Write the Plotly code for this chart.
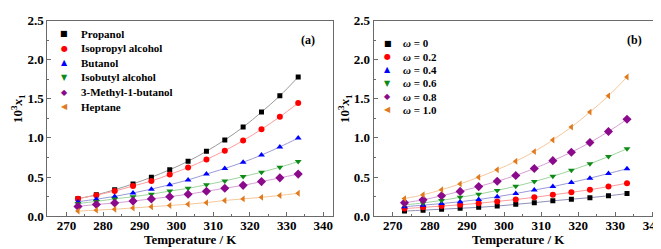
import plotly.graph_objects as go
from plotly.subplots import make_subplots

temperature = [273.15, 278.15, 283.15, 288.15, 293.15, 298.15, 303.15,
               308.15, 313.15, 318.15, 323.15, 328.15, 333.15]

# Panel (a): pure solvents
propanol = [0.224, 0.272, 0.337, 0.412, 0.497, 0.593, 0.701, 0.829, 0.974, 1.138, 1.330, 1.538, 1.779]
isopropyl = [0.222, 0.268, 0.320, 0.385, 0.449, 0.533, 0.621, 0.725, 0.837, 0.966, 1.110, 1.270, 1.446]
butanol = [0.184, 0.216, 0.252, 0.296, 0.345, 0.401, 0.462, 0.537, 0.609, 0.689, 0.781, 0.885, 0.998]
isobutyl = [0.160, 0.188, 0.220, 0.248, 0.280, 0.320, 0.355, 0.401, 0.449, 0.505, 0.561, 0.625, 0.697]
methylbutanol = [0.124, 0.148, 0.168, 0.192, 0.220, 0.248, 0.280, 0.317, 0.357, 0.393, 0.441, 0.489, 0.537]
heptane = [0.064, 0.076, 0.088, 0.104, 0.120, 0.136, 0.152, 0.172, 0.200, 0.220, 0.240, 0.264, 0.292]

# Panel (b): binary mixtures (mass fraction omega)
w00 = [0.064, 0.076, 0.088, 0.100, 0.112, 0.128, 0.150, 0.172, 0.196, 0.216, 0.236, 0.260, 0.288]
w02 = [0.096, 0.112, 0.128, 0.144, 0.164, 0.188, 0.212, 0.240, 0.272, 0.304, 0.337, 0.377, 0.421]
w04 = [0.120, 0.140, 0.160, 0.184, 0.212, 0.248, 0.288, 0.333, 0.377, 0.429, 0.485, 0.545, 0.605]
w06 = [0.144, 0.168, 0.200, 0.240, 0.280, 0.329, 0.381, 0.441, 0.509, 0.585, 0.669, 0.761, 0.861]
w08 = [0.172, 0.208, 0.260, 0.316, 0.377, 0.445, 0.520, 0.609, 0.709, 0.817, 0.941, 1.082, 1.238]
w10 = [0.224, 0.272, 0.337, 0.412, 0.497, 0.593, 0.701, 0.825, 0.974, 1.138, 1.330, 1.538, 1.779]

labels_a = ["Propanol", "Isopropyl alcohol", "Butanol", "Isobutyl alcohol",
            "3-Methyl-1-butanol", "Heptane"]
labels_b = ["<i>ω</i> = 0", "<i>ω</i> = 0.2", "<i>ω</i> = 0.4", "<i>ω</i> = 0.6",
            "<i>ω</i> = 0.8", "<i>ω</i> = 1.0"]
series_a = [propanol, isopropyl, butanol, isobutyl, methylbutanol, heptane]
series_b = [w00, w02, w04, w06, w08, w10]

x_ticks = [270, 280, 290, 300, 310, 320, 330, 340]
x_ticklabels = ["270", "280", "290", "300", "310", "320", "330", "340"]
y_ticks = [0.0, 0.5, 1.0, 1.5, 2.0, 2.5]
y_ticklabels = ["0.0", "0.5", "1.0", "1.5", "2.0", "2.5"]
x_title = "Temperature / K"
y_title = "10<sup>3</sup><i>x</i><sub>1</sub>"

colors = ["#000000", "#FF0000", "#0000FF", "#0E8A16", "#8B0A8B", "#E07A1C"]
line_colors = ["#9a9a9a", "#ff9a9a", "#9a9ad8", "#9fd49f", "#d49fd4", "#f5c79a"]
line_colors_b = ["#8e8eb8", "#ff9a9a", "#9a9ad8", "#9fd49f", "#d49fd4", "#f5c79a"]
symbols = ["square", "circle", "triangle-up", "triangle-down", "diamond", "triangle-left"]
sizes = [5, 6, 6, 6, 7, 6]
glyphs = ["■", "●", "▲", "▼", "◆", "◀"]

SERIF = "Liberation Serif"

fig = make_subplots(rows=1, cols=2, horizontal_spacing=0.06)

for col, (series, lcols) in enumerate([(series_a, line_colors), (series_b, line_colors_b)], start=1):
    for i, ys in enumerate(series):
        fig.add_trace(go.Scatter(x=temperature, y=ys, mode="lines",
                                 line=dict(color=lcols[i], width=1, shape="spline"),
                                 showlegend=False, hoverinfo="skip"), row=1, col=col)
    for i, ys in enumerate(series):
        fig.add_trace(go.Scatter(x=temperature, y=ys, mode="markers",
                                 marker=dict(symbol=symbols[i], size=sizes[i], color=colors[i],
                                             line=dict(width=0)),
                                 showlegend=False), row=1, col=col)

tick_font = dict(family=SERIF, size=13, color="black")
axis_common = dict(showline=True, mirror=True, linecolor="#6a6a6a", linewidth=1,
                   ticks="inside", ticklen=4, tickcolor="#6a6a6a",
                   showgrid=False, zeroline=False, tickfont=tick_font,
                   ticklabeloverflow="allow")

fig.update_xaxes(range=[264.8, 342.6], tickmode="array", tickvals=x_ticks,
                 ticktext=["<b>" + t + "</b>" for t in x_ticklabels],
                 ticklabelstandoff=-3,
                 minor=dict(ticks="inside", ticklen=2, dtick=5, tick0=270, tickcolor="#6a6a6a"),
                 **axis_common)
fig.update_yaxes(range=[0, 2.5], tickmode="array", tickvals=y_ticks,
                 ticktext=["<b>" + t + "</b>" for t in y_ticklabels],
                 minor=dict(ticks="inside", ticklen=2, dtick=0.25, tick0=0, tickcolor="#6a6a6a"),
                 **axis_common)

fig.update_layout(
    width=661, height=249,
    margin=dict(l=0, r=0, t=0, b=0),
    paper_bgcolor="white", plot_bgcolor="white",
    showlegend=False,
    xaxis=dict(domain=[0.0595, 0.4915]),
    xaxis2=dict(domain=[0.5530, 0.9895]),
    yaxis=dict(domain=[0.1406, 0.976]),
    yaxis2=dict(domain=[0.1406, 0.976]),
)

W, H = 661.0, 249.0
ann = []
# axis titles
for xc in (182.0, 510.0):
    ann.append(dict(x=xc / W, y=1 - 239 / H, xref="paper", yref="paper",
                    text="<b>" + x_title + "</b>", showarrow=False,
                    xanchor="center", yanchor="middle",
                    font=dict(family=SERIF, size=13, color="black")))
for xc in (10.0, 337.0):
    ann.append(dict(x=xc / W, y=1 - 100 / H, xref="paper", yref="paper",
                    text="<b>" + y_title + "</b>", showarrow=False, textangle=-90,
                    xanchor="center", yanchor="middle",
                    font=dict(family=SERIF, size=13, color="black")))
# panel (a) legend
for i, lab in enumerate(labels_a):
    yc = 1 - (20 + 15.5 * i) / H
    ann.append(dict(x=56 / W, y=yc, xref="paper", yref="paper", text=glyphs[i],
                    showarrow=False, xanchor="center", yanchor="middle",
                    font=dict(family="DejaVu Sans", size=8, color=colors[i])))
    ann.append(dict(x=71 / W, y=yc, xref="paper", yref="paper", text="<b>" + lab + "</b>",
                    showarrow=False, xanchor="left", yanchor="middle",
                    font=dict(family=SERIF, size=11, color="black")))
# panel (b) legend
for i, lab in enumerate(labels_b):
    yc = 1 - (30 + 14.2 * i) / H
    ann.append(dict(x=380 / W, y=yc, xref="paper", yref="paper", text=glyphs[i],
                    showarrow=False, xanchor="center", yanchor="middle",
                    font=dict(family="DejaVu Sans", size=8, color=colors[i])))
    ann.append(dict(x=393 / W, y=yc, xref="paper", yref="paper", text="<b>" + lab + "</b>",
                    showarrow=False, xanchor="left", yanchor="middle",
                    font=dict(family=SERIF, size=11, color="black")))
ann.append(dict(x=300 / W, y=1 - 27 / H, xref="paper", yref="paper", text="<b>(a)</b>",
                showarrow=False, xanchor="center", yanchor="middle",
                font=dict(family=SERIF, size=12, color="black")))
ann.append(dict(x=626.5 / W, y=1 - 27 / H, xref="paper", yref="paper", text="<b>(b)</b>",
                showarrow=False, xanchor="center", yanchor="middle",
                font=dict(family=SERIF, size=12, color="black")))
fig.update_layout(annotations=ann)

fig.write_html("out.html")
